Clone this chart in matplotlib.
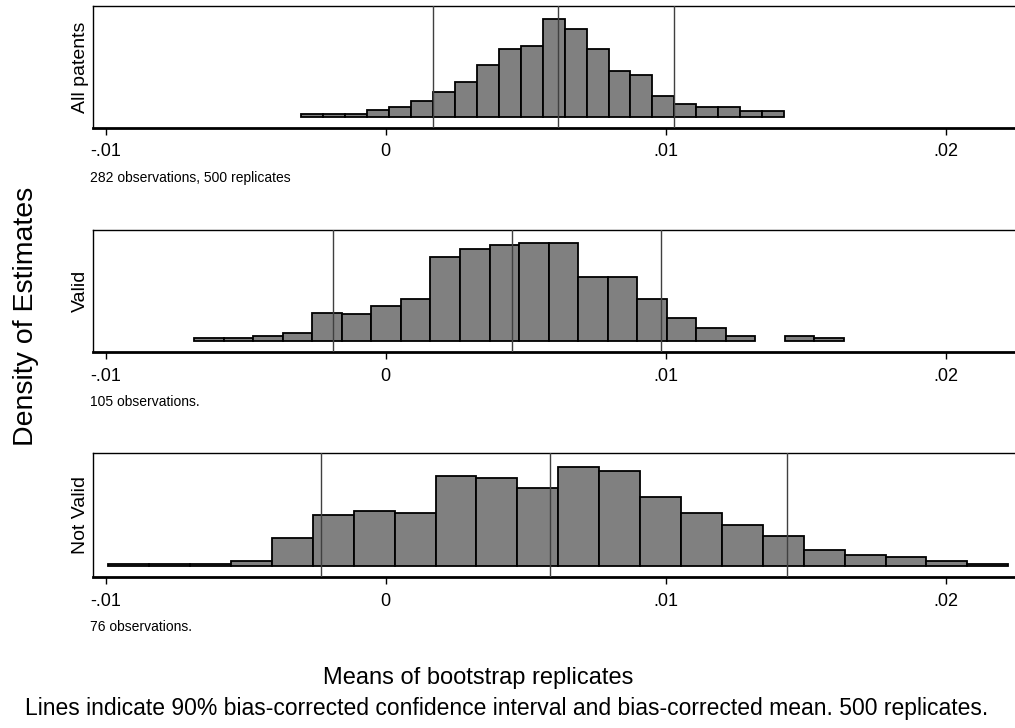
import matplotlib
matplotlib.use("Agg")
import matplotlib.pyplot as plt
import numpy as np

plt.rcParams['font.family'] = ['Liberation Sans', 'DejaVu Sans']

# ---- data -------------------------------------------------------------
panel_labels = ["All patents", "Valid", "Not Valid"]
panel_notes = ["282 observations, 500 replicates", "105 observations.", "76 observations."]

counts_all = [2, 2, 2, 5, 7, 11, 18, 25, 37, 49, 51, 70, 63, 49, 33, 30, 15, 9, 7, 7, 4, 4]
counts_valid = [2, 2, 3, 5, 17, 16, 21, 25, 50, 55, 57, 58, 58, 38, 38, 25, 14, 8, 3, 0, 3, 2]
counts_notvalid = [1, 1, 1, 3, 16, 29, 31, 30, 51, 50, 44, 56, 54, 39, 30, 23, 17, 9, 6, 5, 3, 1]

bin_start = [-0.003025, -0.006836, -0.009907]
bin_width = [0.0007846, 0.0010547, 0.001461]

# bias-corrected CI lower, bias-corrected mean, CI upper
ci_all = [0.0017, 0.00614, 0.0103]
ci_valid = [-0.00189, 0.0045, 0.00983]
ci_notvalid = [-0.00232, 0.00586, 0.01432]

xticks = [-0.01, 0, 0.01, 0.02]
xtick_labels = ["-.01", "0", ".01", ".02"]

x_title = "Means of bootstrap replicates"
y_title = "Density of Estimates"
footnote = ("Lines indicate 90% bias-corrected confidence interval and "
            "bias-corrected mean. 500 replicates.")

# ---- figure -----------------------------------------------------------
W, H = 1015, 728
fig = plt.figure(figsize=(W / 100, H / 100), dpi=100)

def fx(px):
    return px / W

def fy(py):
    return 1 - py / H

left_px, right_px = 92.7, 1015
panels_px = [(6, 127.7), (230, 352.3), (453.3, 577.3)]  # (top, bottom)

xlim = (-0.010461, 0.022475)

all_counts = [counts_all, counts_valid, counts_notvalid]
all_ci = [ci_all, ci_valid, ci_notvalid]

for i in range(3):
    top, bot = panels_px[i]
    ax = fig.add_axes([fx(left_px), fy(bot), fx(right_px - left_px), (bot - top) / H])
    c = np.array(all_counts[i], dtype=float)
    edges = bin_start[i] + bin_width[i] * np.arange(len(c))
    mask = c > 0
    ax.bar(edges[mask], c[mask], width=bin_width[i], align='edge',
           color='#808080', edgecolor='black', linewidth=1.3, zorder=2)
    m = c.max()
    ax.set_ylim(-0.113 * m, 1.138 * m)
    ax.set_xlim(*xlim)
    for v in all_ci[i]:
        ax.axvline(v, color='#404040', linewidth=1.0, zorder=3)
    ax.set_yticks([])
    ax.set_xticks(xticks)
    ax.set_xticklabels(xtick_labels, fontsize=13)
    ax.tick_params(axis='x', direction='out', length=5, width=1.0, pad=6, color='black')
    ax.spines['right'].set_visible(False)
    ax.spines['left'].set_linewidth(1.0)
    ax.spines['top'].set_linewidth(1.0)
    ax.spines['bottom'].set_linewidth(2.0)
    ax.set_ylabel(panel_labels[i], fontsize=14, labelpad=3)
    fig.text(fx(90), fy(bot + 50), panel_notes[i], fontsize=10,
             ha='left', va='center')

fig.text(fx(26), fy(316), y_title, rotation=90, fontsize=20.5,
         ha='center', va='center')
fig.text(fx(478), fy(678), x_title, fontsize=17, ha='center', va='center')
fig.text(fx(507), fy(708), footnote, fontsize=16.5, ha='center', va='center')

fig.savefig("out.png", dpi=100)
